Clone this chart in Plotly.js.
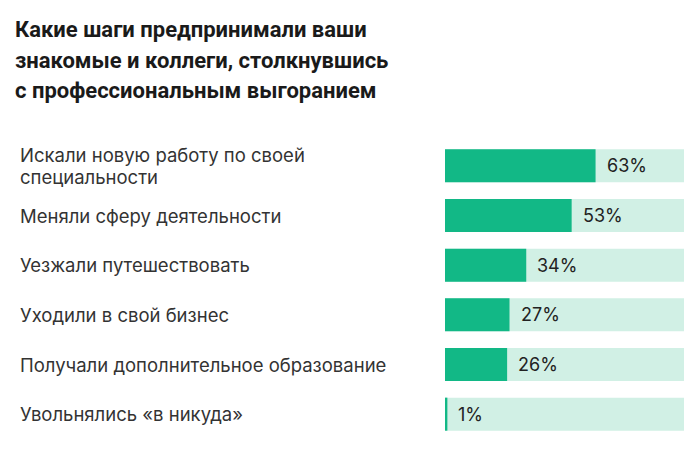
<!DOCTYPE html>
<html><head><meta charset="utf-8">
<script src="https://cdn.plot.ly/plotly-3.0.1.min.js"></script>
<style>html,body{margin:0;padding:0;background:#fff;}#chart{width:700px;height:449px;}</style>
</head><body><div id="chart"></div>
<script>
const titleLines = [
  "Какие шаги предпринимали ваши",
  "знакомые и коллеги, столкнувшись",
  "с профессиональным выгоранием"
];
const categories = [
  "Искали новую работу по своей<br>специальности",
  "Меняли сферу деятельности",
  "Уезжали путешествовать",
  "Уходили в свой бизнес",
  "Получали дополнительное образование",
  "Увольнялись «в никуда»"
];
const values = [63, 53, 34, 27, 26, 1];
const valueLabels = ["63%", "53%", "34%", "27%", "26%", "1%"];
const fullScale = 100;

const green = "#12b886";
const light = "#d1f0e5";
const labelFont = {family: "Inter, sans-serif", size: 18.5, color: "#333333"};
const valueFont = {family: "Inter, sans-serif", size: 18, color: "#222222"};
const titleFont = {family: "Roboto, sans-serif", size: 22, weight: 700, color: "#1a1a1a"};

const H = 449, T = 141, B = 10;
const plotH = H - T - B;
const pxToPaperY = py => (H - B - py) / plotH;

const bg = {
  type: "bar", orientation: "h",
  y: categories, x: categories.map(() => fullScale),
  marker: {color: light}, width: 0.665, hoverinfo: "skip", showlegend: false
};
const fg = {
  type: "bar", orientation: "h",
  y: categories, x: values,
  marker: {color: green}, width: 0.665, hoverinfo: "skip", showlegend: false
};

const annotations = [];
const titleY = [29, 60.5, 90];
titleLines.forEach((t, i) => {
  annotations.push({
    xref: "paper", yref: "paper", x: 0, xshift: -5, y: pxToPaperY(titleY[i]),
    xanchor: "left", yanchor: "middle", text: t, showarrow: false, font: titleFont
  });
});
const lineGap = 21.6;
categories.forEach((c, i) => {
  const lines = c.split("<br>");
  lines.forEach((ln, j) => {
    annotations.push({
      xref: "paper", yref: "y", x: 0, y: c, xanchor: "left", yanchor: "middle",
      yshift: -(j - (lines.length - 1) / 2) * lineGap,
      text: ln, showarrow: false, align: "left", font: labelFont
    });
  });
  annotations.push({
    xref: "x", yref: "y", x: values[i], y: c, xanchor: "left", yanchor: "middle",
    xshift: 9, text: valueLabels[i], showarrow: false, font: valueFont
  });
});

const layout = {
  width: 700, height: H,
  margin: {l: 18, r: 16, t: T, b: B},
  paper_bgcolor: "#ffffff", plot_bgcolor: "#ffffff",
  barmode: "overlay",
  xaxis: {domain: [0.6411, 1], range: [0, fullScale], visible: false, fixedrange: true},
  yaxis: {autorange: "reversed", visible: false, fixedrange: true},
  annotations: annotations
};

Plotly.newPlot("chart", [bg, fg], layout, {displayModeBar: false, staticPlot: true});
</script>
</body></html>
